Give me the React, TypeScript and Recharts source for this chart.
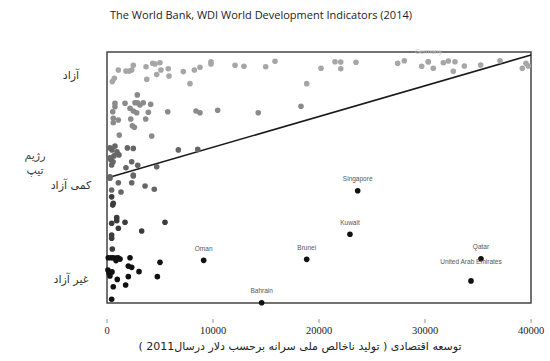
import React from "react";
import {
  ScatterChart,
  Scatter,
  XAxis,
  YAxis,
  ReferenceLine,
  ReferenceArea,
  LabelList,
} from "recharts";

// GDP per capita (x) vs regime score (y, 0-100), grouped by shade
const freeX = [500, 690, 1070, 1790, 2100, 2330, 2480, 3680, 4310, 4530, 5000, 5090, 4690, 5780, 5850, 3750, 7200, 8240, 8770, 9810, 9810, 7830, 12080, 12920, 14970, 15850, 18840, 20190, 21510, 22050, 22050, 23490, 27420, 28050, 29690, 30310, 30780, 31730, 32200, 32830, 32670, 33710, 35250, 37080, 39180, 39530, 39750];
const freeY = [88.2, 89.5, 92.8, 92.4, 92.4, 92.8, 94.7, 94.1, 95.5, 95.2, 95.7, 92.8, 91.0, 93.3, 90.4, 89.1, 92.2, 92.8, 93.9, 96.1, 95.2, 87.4, 94.7, 94.3, 94.1, 96.3, 87.4, 93.5, 96.1, 96.0, 93.3, 95.9, 95.5, 96.5, 94.3, 96.1, 93.5, 95.7, 96.4, 96.1, 92.3, 94.4, 94.8, 96.5, 93.5, 95.5, 94.4];

const upperMidX = [2860, 750, 750, 1700, 2640, 2860, 3110, 3420, 4120, 2170, 2480, 2800, 540, 3900, 590, 1070, 2240, 3650, 590, 2390, 2580, 1160, 4220, 5730, 8400, 8770, 10440, 14270, 18300];
const upperMidY = [82.9, 79.6, 78.2, 79.6, 79.8, 79.8, 78.9, 79.8, 79.2, 77.6, 76.5, 75.8, 76.2, 76.0, 73.6, 72.9, 73.3, 73.3, 71.8, 70.6, 70.0, 66.9, 66.5, 76.2, 76.5, 75.8, 76.8, 75.8, 78.4];

const lowerMidX = [6730, 8560, 280, 470, 750, 940, 1130, 660, 380, 1920, 2480, 280, 570, 440, 1790, 2330, 2900, 4690, 2480, 280, 280, 1070, 2330, 2480, 3590, 4460, 440, 1320];
const lowerMidY = [61.0, 61.2, 61.8, 61.0, 62.5, 60.2, 59.0, 58.6, 57.0, 61.8, 61.6, 57.8, 56.3, 55.0, 53.9, 56.3, 54.9, 54.3, 51.0, 50.3, 49.7, 47.9, 47.9, 50.6, 46.6, 45.3, 45.0, 44.2];

const darkX = [440, 590, 540, 920, 920, 440, 1700, 5470, 1070, 3270, 440, 440, 500];
const darkY = [42.3, 39.7, 39.0, 34.0, 32.8, 31.8, 32.2, 32.2, 29.8, 28.7, 27.1, 25.8, 21.5];

const notFreeX = [120, 380, 570, 850, 1040, 1230, 2170, 5000, 850, 2010, 2330, 90, 190, 280, 470, 3020, 970, 2010, 4750, 590, 1760, 440];
const notFreeY = [18.0, 18.0, 18.0, 17.9, 18.0, 17.5, 18.0, 16.2, 16.9, 14.7, 14.2, 13.1, 12.0, 10.8, 12.4, 12.5, 9.4, 10.5, 10.5, 6.5, 7.2, 1.5];

// named countries
const namedCountries = ["Singapore", "Kuwait", "Oman", "Brunei", "Bahrain", "Qatar", "United Arab Emirates"];
const namedX = [23650, 22920, 9120, 18840, 14590, 35280, 34340];
const namedY = [44.7, 27.4, 17.0, 17.4, 0.1, 17.6, 8.8];

const germany = { x: 30310, y: 96.1, name: "Germany" };

// fitted line end points
const fitX = [0, 40000];
const fitY = [49.8, 98.8];

const regimeLabels = ["غیر آزاد", "کمی آزاد", "آزاد"];
const regimeTicks = [9.6, 47.0, 90.8];
const xTicks = [0, 10000, 20000, 30000, 40000];

const toPoints = (xs: number[], ys: number[]) => xs.map((x, i) => ({ x, y: ys[i] }));

const freeData = toPoints(freeX, freeY);
const upperMidData = toPoints(upperMidX, upperMidY);
const lowerMidData = toPoints(lowerMidX, lowerMidY);
const darkData = toPoints(darkX, darkY);
const notFreeData = toPoints(notFreeX, notFreeY);
const namedData = namedCountries.map((name, i) => ({ x: namedX[i], y: namedY[i], name }));

const dot = (fill: string) => (props: any) => (
  <circle cx={props.cx} cy={props.cy} r={2.8} fill={fill} />
);

const CountryLabel = (props: any) => {
  const { x, y, width, value } = props;
  if (!value) return null;
  const lift = value === "United Arab Emirates" ? 12 : 5;
  return (
    <text
      x={x + (width || 0) / 2}
      y={y - lift}
      textAnchor="middle"
      fontSize={6.5}
      fontFamily="Liberation Sans, Arial, sans-serif"
      fill="#555"
    >
      {value}
    </text>
  );
};

const XTick = ({ x, y, payload }: any) => (
  <g transform={`translate(${x},${y})`}>
    <line x1={0} x2={0} y1={8} y2={12} stroke="#777" strokeWidth={0.8} />
    <text
      x={0}
      y={23}
      textAnchor="middle"
      fontSize={10.5}
      fontFamily="Liberation Serif, Times New Roman, serif"
      fill="#222"
    >
      {payload.value}
    </text>
  </g>
);

const YTick = ({ x, y, payload }: any) => {
  const idx = regimeTicks.indexOf(payload.value);
  return (
    <text
      x={x - 28}
      y={y + 4}
      textAnchor="middle"
      fontSize={11}
      fontFamily="DejaVu Sans, sans-serif"
      fill="#333"
      direction="rtl"
    >
      {regimeLabels[idx]}
    </text>
  );
};

export default function App() {
  return (
    <div
      style={{
        position: "absolute",
        left: 0,
        top: 0,
        width: 550,
        height: 361,
        background: "#fff",
      }}
    >
      <div
        style={{
          position: "absolute",
          left: 0,
          width: 522,
          top: 7,
          textAlign: "center",
          fontFamily: "Open Sans, Liberation Sans, sans-serif",
          fontSize: 11,
          color: "#222",
        }}
      >
        The World Bank, WDI World Development Indicators (2014)
      </div>

      <div
        dir="rtl"
        style={{
          position: "absolute",
          left: 15,
          width: 40,
          top: 148,
          textAlign: "center",
          fontFamily: "DejaVu Sans, sans-serif",
          fontSize: 11,
          lineHeight: "15px",
          color: "#444",
        }}
      >
        رژیم
        <br />
        تیپ
      </div>

      <div
        dir="rtl"
        style={{
          position: "absolute",
          left: 100,
          width: 400,
          top: 340,
          textAlign: "center",
          fontFamily: "DejaVu Sans, sans-serif",
          fontSize: 11,
          color: "#222",
        }}
      >
        توسعه اقتصادی ( تولید ناخالص ملی سرانه برحسب دلار درسال2011 )
      </div>

      <ScatterChart
        width={550}
        height={361}
        margin={{ top: 52, right: 19, left: 27, bottom: 18 }}
      >
        <XAxis
          type="number"
          dataKey="x"
          domain={[0, 40000]}
          ticks={xTicks}
          axisLine={false}
          tickLine={false}
          tick={<XTick />}
          height={40}
          interval={0}
        />
        <YAxis
          type="number"
          dataKey="y"
          domain={[0, 100]}
          ticks={regimeTicks}
          axisLine={false}
          tickLine={false}
          tick={<YTick />}
          width={80}
          interval={0}
        />
        <ReferenceArea
          x1={0}
          x2={40000}
          y1={0}
          y2={100}
          fill="none"
          stroke="#444"
          strokeWidth={1.5}
          ifOverflow="visible"
        />
        <Scatter data={freeData} fill="#a6a6a6" shape={dot("#a6a6a6")} isAnimationActive={false} />
        <Scatter data={[germany]} fill="#a6a6a6" shape={dot("#a6a6a6")} isAnimationActive={false}>
          <LabelList
            dataKey="name"
            content={(p: any) => (
              <text
                x={p.x + (p.width || 0) / 2}
                y={p.y - 3}
                textAnchor="middle"
                fontSize={6.5}
                fontFamily="Liberation Sans, Arial, sans-serif"
                fill="#c4c4c4"
              >
                {p.value}
              </text>
            )}
          />
        </Scatter>
        <Scatter data={upperMidData} fill="#8a8a8a" shape={dot("#8a8a8a")} isAnimationActive={false} />
        <Scatter data={lowerMidData} fill="#666666" shape={dot("#666666")} isAnimationActive={false} />
        <Scatter data={darkData} fill="#3c3c3c" shape={dot("#3c3c3c")} isAnimationActive={false} />
        <Scatter data={notFreeData} fill="#111111" shape={dot("#111111")} isAnimationActive={false} />
        <Scatter data={namedData} fill="#111111" shape={dot("#111111")} isAnimationActive={false}>
          <LabelList dataKey="name" content={<CountryLabel />} />
        </Scatter>
        <ReferenceLine
          segment={[
            { x: fitX[0], y: fitY[0] },
            { x: fitX[1], y: fitY[1] },
          ]}
          stroke="#1a1a1a"
          strokeWidth={1.6}
        />
      </ScatterChart>
    </div>
  );
}
